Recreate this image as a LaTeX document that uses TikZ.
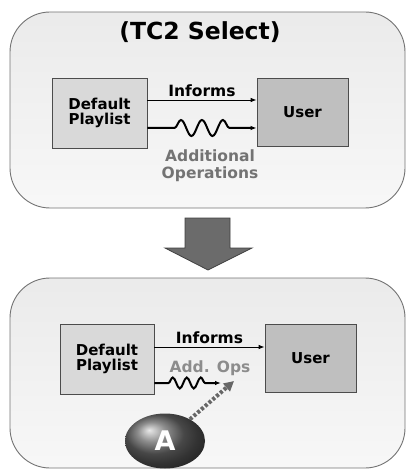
\documentclass[tikz,border=0pt]{standalone}
\usepackage{fontspec}
\setmainfont{DejaVu Sans}
\usepackage{tikz}
\usetikzlibrary{arrows.meta,decorations.pathmorphing,positioning,shapes.geometric,shadings}
\tikzset{panel/.style={draw=black!55, line width=0.9pt, rounded corners=40pt, top color=black!8, bottom color=black!3},
boxlight/.style={draw=black!70, line width=0.8pt, fill=black!15, inner sep=0pt, align=center, font=\bfseries\fontsize{15}{15}\selectfont},
boxdark/.style={boxlight, fill=black!25},
label/.style={font=\bfseries\fontsize{15.5}{17}\selectfont, inner sep=0pt, align=center},
%wavy line with straight ends
wave/.style={line width=2pt, decorate, decoration={snake, amplitude=#1, segment length=21pt, pre length=27pt, post length=18pt}},
wave/.default={8pt}}

\begin{document}
\begin{tikzpicture}[x=1pt, y=-1pt, >={Latex[length=6pt,width=4.5pt]}]
\useasboundingbox (0,0) rectangle (407,470);

% before
\node[panel, minimum width=395pt, minimum height=196pt] (before) at (207.5,110) {};
\node[label, font=\bfseries\fontsize{23.5}{24}\selectfont] (title) at (200,32) {(TC2 Select)};
\node[boxlight, minimum width=95pt, minimum height=70pt] (play1) at (99.5,113) {Default\\Playlist};
\node[boxdark, minimum width=91pt, minimum height=68pt] (user1) at (302.5,112) {User};
\draw[->, line width=0.8pt] ([yshift=13pt]play1.east) -- ([yshift=12pt]user1.west) node[label, pos=0.5, above=3pt] (inf1) {Informs};
\draw[->, wave] ([yshift=-15pt]play1.east) -- ([yshift=-16pt]user1.west);
\node[label, text=black!55] (ops1) at (210,166) {Additional\\Operations};

% transition
\draw[draw=black!75, fill=black!58, line width=0.8pt] (185,218) -- (230,218) -- (230,248) -- (252,248) -- (208,270) -- (165,248) -- (185,248) -- cycle;

% after
\node[panel, minimum width=395pt, minimum height=190pt] (after) at (207.5,373) {};
\node[boxlight, minimum width=94pt, minimum height=70pt] (play2) at (107,359) {Default\\Playlist};
\node[boxdark, minimum width=91pt, minimum height=68pt] (user2) at (310.5,358) {User};
\draw[->, line width=0.8pt] ([yshift=12pt]play2.east) -- ([yshift=11pt]user2.west) node[label, pos=0.5, above=3pt] (inf2) {Informs};
\node[label, text=black!45] (ops2) at (210,368) {Add. Ops};
\coordinate (opsend) at (221,383);
\coordinate (opstip) at (234,381);
\draw[->, wave=5.5pt, decoration={segment length=14pt, pre length=14pt, post length=10pt}] ([yshift=-24pt]play2.east) -- (opsend);
\node[ellipse, minimum width=80pt, minimum height=55pt, shading=ball, ball color=black!60, text=white, font=\bfseries\fontsize{27}{27}\selectfont, inner sep=0pt] (actor) at (165,441) {A};
\draw[-{Triangle[length=10pt,width=10pt]}, black!60, line width=4pt, dash pattern=on 3pt off 2pt] (actor) -- (opstip);

\end{tikzpicture}
\end{document}
